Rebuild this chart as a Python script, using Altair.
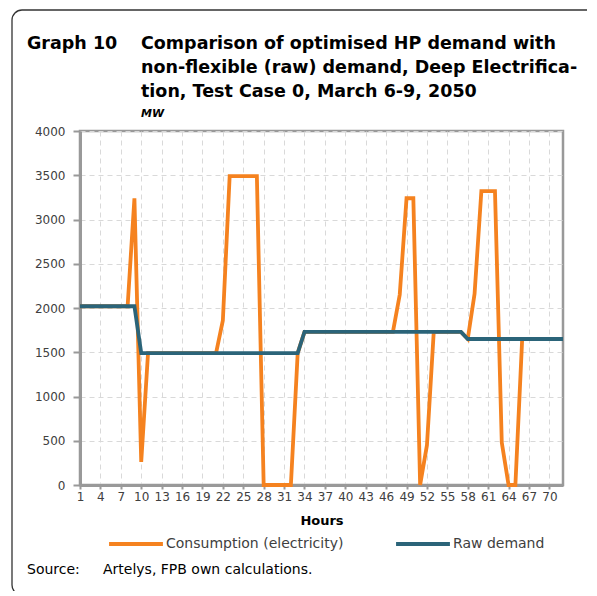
import altair as alt
import pandas as pd

# ---- data ----
hours = list(range(1, 73))
consumption = [
    2020, 2020, 2020, 2020, 2020, 2020, 2020, 2020, 3240, 260,
    1490, 1490, 1490, 1490, 1490, 1490, 1490, 1490, 1490, 1490,
    1490, 1860, 3490, 3490, 3490, 3490, 3490, 0, 0, 0,
    0, 0, 1490, 1730, 1730, 1730, 1730, 1730, 1730, 1730,
    1730, 1730, 1730, 1730, 1730, 1730, 1730, 2150, 3240, 3240,
    0, 450, 1730, 1730, 1730, 1730, 1730, 1650, 2160, 3320,
    3320, 3320, 480, 0, 0, 1650, 1650, 1650, 1650, 1650,
    1650, 1650,
]
raw_demand = [
    2020, 2020, 2020, 2020, 2020, 2020, 2020, 2020, 2020, 1490,
    1490, 1490, 1490, 1490, 1490, 1490, 1490, 1490, 1490, 1490,
    1490, 1490, 1490, 1490, 1490, 1490, 1490, 1490, 1490, 1490,
    1490, 1490, 1490, 1730, 1730, 1730, 1730, 1730, 1730, 1730,
    1730, 1730, 1730, 1730, 1730, 1730, 1730, 1730, 1730, 1730,
    1730, 1730, 1730, 1730, 1730, 1730, 1730, 1650, 1650, 1650,
    1650, 1650, 1650, 1650, 1650, 1650, 1650, 1650, 1650, 1650,
    1650, 1650,
]
series_names = ["Consumption (electricity)", "Raw demand"]
series_colors = ["#F5821F", "#2B6479"]
x_tick_values = [1, 4, 7, 10, 13, 16, 19, 22, 25, 28, 31, 34, 37, 40, 43, 46, 49, 52, 55, 58, 61, 64, 67, 70]
y_tick_values = [0, 500, 1000, 1500, 2000, 2500, 3000, 3500, 4000]

graph_label_text = "Graph 10"
title_lines = [
    "Comparison of optimised HP demand with",
    "non-flexible (raw) demand, Deep Electrifica-",
    "tion, Test Case 0, March 6-9, 2050",
]
unit_text = "MW"
source_label_text = "Source:"
source_text_value = "Artelys, FPB own calculations."
FONT = "DejaVu Sans"

df = pd.DataFrame({
    "Hour": hours * 2,
    "MW": consumption + raw_demand,
    "Series": [series_names[0]] * len(hours) + [series_names[1]] * len(hours),
})

color_scale = alt.Scale(domain=series_names, range=series_colors)

x_enc = alt.X("Hour:Q",
              scale=alt.Scale(domain=[1, 72], nice=False, zero=False),
              axis=alt.Axis(values=x_tick_values, title="Hours", labelFlush=False,
                            labelOverlap=False, tickSize=4, labelPadding=2,
                            titlePadding=12, titleFontSize=13, titleFontWeight="bold",
                            titleColor="#000000", format="d"))
y_enc = alt.Y("MW:Q",
              scale=alt.Scale(domain=[0, 4000], nice=False),
              axis=alt.Axis(values=y_tick_values, title=None, tickSize=7,
                            labelPadding=8, format="d"))
color_enc = alt.Color("Series:N", scale=color_scale, sort=series_names,
                      legend=alt.Legend(title=None, orient="none", legendX=27, legendY=384,
                                        direction="horizontal", symbolType="stroke",
                                        symbolSize=2900, symbolStrokeWidth=4,
                                        labelFontSize=14, labelFont=FONT, labelLimit=400,
                                        labelColor="#404040", labelOffset=1,
                                        columnPadding=44, padding=0))

line_cons = alt.Chart(df).transform_filter(
    alt.datum.Series == series_names[0]
).mark_line(strokeWidth=3.8, clip=False).encode(x=x_enc, y=y_enc, color=color_enc)

line_raw = alt.Chart(df).transform_filter(
    alt.datum.Series == series_names[1]
).mark_line(strokeWidth=3.8, clip=False).encode(x=x_enc, y=y_enc, color=color_enc)

one = alt.Data(values=[{}])

frame = alt.Chart(one).mark_rect(
    fillOpacity=0, stroke="#333333", strokeWidth=1.3, cornerRadius=10
).encode(x=alt.value(-68), x2=alt.value(560), y=alt.value(-121), y2=alt.value(464))


def text_layer(txt, x, y, size, weight="normal", style="normal"):
    return alt.Chart(one).mark_text(
        text=txt, font=FONT, fontSize=size, fontWeight=weight, fontStyle=style,
        align="left", baseline="alphabetic", color="#000000"
    ).encode(x=alt.value(x), y=alt.value(y))


texts = [text_layer(graph_label_text, -53, -82, 17.5, "bold")]
for i, line in enumerate(title_lines):
    texts.append(text_layer(line, 61, -82 + 24 * i, 17.5, "bold"))
texts.append(text_layer(unit_text, 61, -14, 11, "bold", "italic"))
texts.append(text_layer(source_label_text, -53, 443, 14))
texts.append(text_layer(source_text_value, 23, 443, 14))

chart = alt.layer(
    frame, line_cons, line_raw, *texts
).properties(
    width=483, height=354,
    autosize=alt.AutoSizeParams(type="none"),
    padding={"left": 72, "top": 123, "right": 24, "bottom": 106},
    background="#ffffff",
).configure_view(
    stroke="#999999", strokeWidth=2.5
).configure_axis(
    domainColor="#999999", domainWidth=3, tickColor="#999999", tickWidth=2,
    gridColor="#d9d9d9", gridDash=[5, 4], gridWidth=1,
    labelFont=FONT, labelFontSize=12, labelColor="#404040", titleFont=FONT,
)

chart.save("out.html", embed_options={"renderer": "svg", "actions": False})
